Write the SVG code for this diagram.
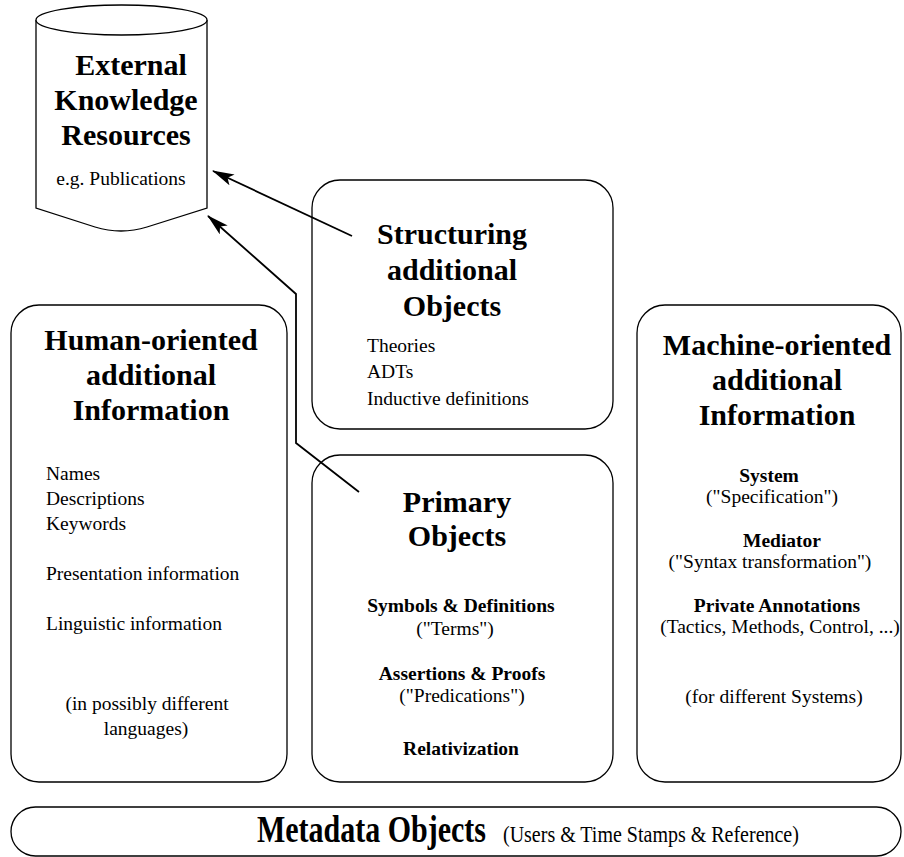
<svg xmlns="http://www.w3.org/2000/svg" width="904" height="857" viewBox="0 0 904 857">
<style>
.box{fill:#fff;stroke:#000;stroke-width:1.3}
.t{font-family:"Liberation Serif","Times New Roman",serif;fill:#000}
.h{font-size:30px;font-weight:bold;text-anchor:middle}
.b{font-size:19.5px;font-weight:bold;text-anchor:middle}
.r{font-size:19.5px}
.c{text-anchor:middle}
.con{fill:none;stroke:#000;stroke-width:1.8}
</style>
<defs>
<marker id="ah" markerUnits="userSpaceOnUse" markerWidth="24" markerHeight="14" refX="21" refY="6" orient="auto">
<path d="M0,0 L22,6 L0,12 L5,6 Z" fill="#000"/>
</marker>
</defs>
<rect width="904" height="857" fill="#fff"/>

<g id="external">
<path class="box" d="M36,20 L36,208 L95,227 Q121,235 147,227 L207,208 L207,20"/>
<ellipse class="box" cx="121.5" cy="20" rx="85.5" ry="15"/>
<text class="t h" x="131" y="75">External</text>
<text class="t h" x="126" y="110">Knowledge</text>
<text class="t h" x="126" y="145">Resources</text>
<text class="t r c" x="121" y="185">e.g. Publications</text>
</g>

<g id="structuring">
<rect class="box" x="312" y="180" width="301" height="249" rx="28" ry="28"/>
<text class="t h" x="452" y="244">Structuring</text>
<text class="t h" x="452" y="280">additional</text>
<text class="t h" x="452" y="316">Objects</text>
<text class="t r" x="367" y="352">Theories</text>
<text class="t r" x="367" y="378">ADTs</text>
<text class="t r" x="367" y="405">Inductive definitions</text>
</g>

<g id="human">
<rect class="box" x="11" y="305" width="276" height="477" rx="28" ry="28"/>
<text class="t h" x="151" y="350">Human-oriented</text>
<text class="t h" x="151" y="385">additional</text>
<text class="t h" x="151" y="420">Information</text>
<text class="t r" x="46" y="480">Names</text>
<text class="t r" x="46" y="505">Descriptions</text>
<text class="t r" x="46" y="530">Keywords</text>
<text class="t r" x="46" y="580">Presentation information</text>
<text class="t r" x="46" y="630">Linguistic information</text>
<text class="t r c" x="147" y="710">(in possibly different</text>
<text class="t r c" x="146" y="735">languages)</text>
</g>

<g id="primary">
<rect class="box" x="312" y="455" width="301" height="327" rx="28" ry="28"/>
<text class="t h" x="457" y="512">Primary</text>
<text class="t h" x="457" y="546">Objects</text>
<text class="t b" x="461" y="612">Symbols &amp; Definitions</text>
<text class="t r c" x="455" y="635">("Terms")</text>
<text class="t b" x="462" y="680">Assertions &amp; Proofs</text>
<text class="t r c" x="462" y="702">("Predications")</text>
<text class="t b" x="461" y="755">Relativization</text>
</g>

<g id="machine">
<rect class="box" x="637" y="305" width="264" height="477" rx="28" ry="28"/>
<text class="t h" x="777" y="355">Machine-oriented</text>
<text class="t h" x="777" y="390">additional</text>
<text class="t h" x="777" y="425">Information</text>
<text class="t b" x="769" y="482">System</text>
<text class="t r c" x="772" y="503">("Specification")</text>
<text class="t b" x="782" y="547">Mediator</text>
<text class="t r c" x="770" y="568">("Syntax transformation")</text>
<text class="t b" x="777" y="612">Private Annotations</text>
<text class="t r c" x="780" y="633">(Tactics, Methods, Control, ...)</text>
<text class="t r c" x="774" y="703">(for different Systems)</text>
</g>

<g id="metadata">
<rect class="box" x="11" y="807" width="890" height="49" rx="24.5" ry="24.5"/>
<text class="t" font-size="30" font-weight="bold" transform="translate(257,842) scale(1,1.25)">Metadata Objects</text>
<text class="t" font-size="20" transform="translate(503,842) scale(1,1.2)">(Users &amp; Time Stamps &amp; Reference)</text>
</g>

<g id="connectors">
<path class="con" d="M352,236 L213,171" marker-end="url(#ah)"/>
<path class="con" d="M359,492 L296,443 L296,294 L208,216" marker-end="url(#ah)"/>
</g>
</svg>
